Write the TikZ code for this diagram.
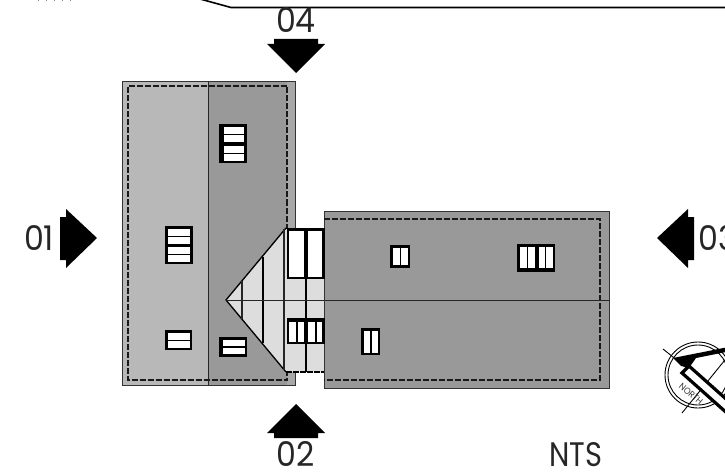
\documentclass[tikz,border=0pt]{standalone}
\usepackage{fontspec}
\setmainfont{Poppins}
\newfontfamily\labfont[FakeStretch=.93]{Poppins}
\newfontfamily\ntsfont[FakeStretch=.85]{Poppins}
\definecolor{roofL}{HTML}{B8B8B8}
\definecolor{roofD}{HTML}{999999}
\definecolor{roofS}{HTML}{A8A8A8}
\definecolor{glaze}{HTML}{DDDDDD}
\tikzset{
  px/.style={x=1pt,y=-1pt},
  outline/.style={draw=black!80,line width=1pt},
  eave/.style={draw=black!90,line width=1.2pt,dash pattern=on 6pt off 2pt},
  ridge/.style={draw=black!85,line width=1pt},
  mullion/.style={draw=black,line width=1.6pt},
  viewarrow/.style={fill=black,draw=none},
  lab/.style={font=\labfont\fontsize{34}{34}\selectfont,inner sep=0pt,text=black!85},
  nts/.style={font=\ntsfont\fontsize{34}{34}\selectfont,inner sep=0pt,text=black!85}
}
\newcommand{\wframe}[4]{\fill[black] (#1,#3) rectangle (#2,#4);}
\newcommand{\wpane}[4]{\fill[white] (#1,#3) rectangle (#2,#4);}
\begin{document}
\begin{tikzpicture}[px]
\useasboundingbox (0,0) rectangle (725,473);
\clip (0,0) rectangle (725,473);
% top fragments
\draw[black,line width=1.6pt] (200,-1) -- (231,7.5) -- (726,7.5);
\draw[black!50,line width=.8pt,dash pattern=on 1pt off 7pt] (38,0) -- (78,0);
% left wing
\fill[roofL] (122,82) rectangle (208,385);
\fill[roofD] (208,82) rectangle (287,385);
\fill[roofS] (287,82) rectangle (295,385);
\draw[outline] (122,82) rectangle (295,385);
\draw[eave] (285.5,228) -- (287,228) -- (287,86) -- (128,86) -- (128,380) -- (287,380) -- (287,372);
\draw[ridge] (208,82) -- (208,385);
% right wing
\fill[roofD] (324,211) rectangle (609,388);
\draw[outline] (324,388) -- (324,211) -- (609,211) -- (609,388) -- cycle;
\draw[eave] (324,219) -- (600,219) -- (600,380) -- (324,380);
% link and valley
\fill[glaze] (226,300) -- (286,229) -- (324,229) -- (324,372) -- (286,372) -- cycle;
\draw[black,line width=1.3pt] (286,228) -- (226,300) -- (286,372);
\draw[black,line width=1.3pt] (286,228.5) -- (324,228.5);
\draw[black,line width=1.3pt,dash pattern=on 6pt off 1pt] (286,372) -- (324,372);
\draw[black!85,line width=1.1pt] (242,281) -- (242,319);
\draw[mullion] (263,257) -- (263,343);
\draw[black!85,line width=1.1pt] (284,229) -- (284,370);
\draw[mullion] (306,228) -- (306,372);
\draw[ridge] (226,300) -- (609,300);
\draw[black!80,line width=1pt] (324,228) -- (324,372);
% link windows
\wframe{287}{325}{228}{279}
\wpane{289}{304}{231}{277}
\wpane{308}{322}{231}{277}
\wframe{287}{325}{318}{344}
\wpane{289}{296}{322}{342}
\wpane{297.5}{304}{322}{342}
\wpane{308}{315}{322}{342}
\wpane{316.5}{322}{322}{342}
% right wing windows
\wframe{361}{380}{328}{355}
\wpane{363.5}{370}{331}{353}
\wpane{371.5}{378}{331}{353}
\wframe{390}{410}{245}{268}
\wpane{393}{399.5}{248}{265}
\wpane{401}{407.5}{248}{265}
\wframe{517}{555}{244}{272}
\wpane{520}{526.5}{247}{268}
\wpane{528}{534.5}{247}{268}
\wpane{538.5}{544.5}{247}{268}
\wpane{546}{552.5}{247}{268}
% left wing windows
\wframe{219}{247}{124}{163}
\wpane{224}{244}{127}{134}
\wpane{224}{244}{135.5}{142}
\wpane{224}{244}{146}{153}
\wpane{224}{244}{154.5}{161}
\wframe{165}{192.5}{226}{264}
\wpane{168}{190}{228.5}{235.5}
\wpane{168}{190}{237}{243.5}
\wpane{168}{190}{247}{253.5}
\wpane{168}{190}{255}{262}
\wframe{165}{192}{330}{350}
\wpane{168}{190}{333}{339.5}
\wpane{168}{190}{341}{348}
\wframe{219}{247}{337}{357}
\wpane{223}{245}{340}{346}
\wpane{223}{245}{347.5}{354}
% view arrows
\fill[viewarrow] (274,39) -- (318,39) -- (318,44) -- (325,44) -- (296,73) -- (267,44) -- (274,44) -- cycle;
\fill[viewarrow] (274,438) -- (318,438) -- (318,433) -- (325,433) -- (296,404) -- (267,433) -- (274,433) -- cycle;
\fill[viewarrow] (694,217) -- (694,260) -- (688,260) -- (688,268) -- (657,238) -- (688,209) -- (688,217) -- cycle;
\fill[viewarrow] (60,217) -- (60,260) -- (66,260) -- (66,268) -- (97,238) -- (66,209) -- (66,217) -- cycle;
\node[lab] (v1) at (39,238) {01};
\node[lab] (v4) at (296,20) {04};
\node[lab] (v2) at (296,454) {02};
\node[lab,anchor=west] (v3) at (698,238) {03};
\node[nts] (scale) at (575.5,455) {NTS};
% north point
\draw[black,line width=.9pt] (698,375) circle (33);
\draw[black,line width=.9pt] (698,375) circle (30);
\draw[black,line width=.9pt] (663,349) -- (740,411);
\draw[black,line width=.9pt] (682,413) -- (733,350);
\fill[black] (673,358) -- (726,347.5) -- (726,352) -- (696,358) -- (689,368) -- (681,366) -- cycle;
\draw[black,line width=3.2pt,fill=white] (682,373) -- (689,366) -- (735,407) -- (728,414) -- cycle;
\node[font=\labfont\fontsize{9}{9}\selectfont,rotate=-40,inner sep=0pt,text=black!80] (north) at (691,394) {NORTH};
\end{tikzpicture}
\end{document}
